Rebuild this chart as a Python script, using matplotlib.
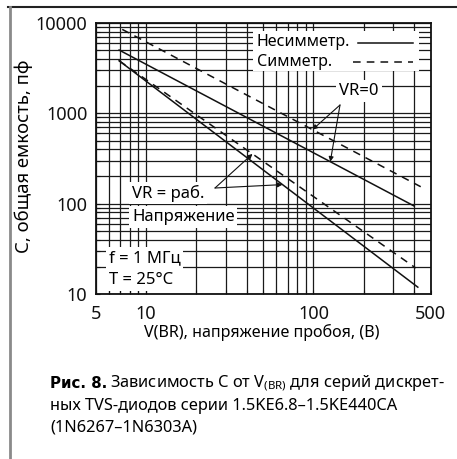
import numpy as np
import matplotlib
matplotlib.use("Agg")
import matplotlib.pyplot as plt
from matplotlib.lines import Line2D
from matplotlib.patches import Rectangle

plt.rcParams['font.family'] = ['Noto Sans', 'DejaVu Sans']
plt.rcParams['mathtext.fontset'] = 'custom'
plt.rcParams['mathtext.rm'] = 'Noto Sans'

# ---- data ----
v_asym_vr0 = [6.9, 400]
c_asym_vr0 = [5020, 94]
v_sym_vr0 = [7.2, 437]
c_sym_vr0 = [8500, 154]
v_asym_vrwm = [6.9, 420]
c_asym_vrwm = [3820, 11.9]
v_sym_vrwm = [6.9, 408]
c_sym_vrwm = [3820, 19.4]

x_ticks = [5, 10, 100, 500]
x_ticklabels = ['5', '10', '100', '500']
y_ticks = [10, 100, 1000, 10000]
y_ticklabels = ['10', '100', '1000', '10000']

W, H = 457, 459
fig = plt.figure(figsize=(W / 100, H / 100), dpi=100)
fig.patch.set_facecolor('white')

def fx(px):
    return px / W

def fy(py):
    return 1 - py / H

L, R, T, B = 95.7, 430.5, 23, 294
ax = fig.add_axes([fx(L), fy(B), fx(R - L), (B - T) / H])

def axc(px, py):
    return ((px - L) / (R - L), (B - py) / (B - T))

ax.set_xscale('log')
ax.set_yscale('log')
ax.set_xlim(5, 500)
ax.set_ylim(10, 10000)

ax.set_xticks(x_ticks)
ax.set_xticklabels(x_ticklabels)
ax.set_yticks(y_ticks)
ax.set_yticklabels(y_ticklabels)
ax.xaxis.set_minor_locator(matplotlib.ticker.LogLocator(base=10, subs=np.arange(2, 10)))
ax.yaxis.set_minor_locator(matplotlib.ticker.LogLocator(base=10, subs=np.arange(2, 10)))
ax.xaxis.set_minor_formatter(matplotlib.ticker.NullFormatter())
ax.yaxis.set_minor_formatter(matplotlib.ticker.NullFormatter())
ax.tick_params(which='both', direction='in', length=3, width=0.8, colors='#111111')
ax.tick_params(axis='x', which='major', pad=8, labelsize=13)
ax.tick_params(axis='y', which='major', pad=6, labelsize=13)
ax.grid(True, which='both', color='#1a1a1a', linewidth=0.9)
for s in ax.spines.values():
    s.set_linewidth(1.3)
    s.set_color('#111111')

lw = 1.1
dash = (0, (5, 4))
ax.plot(v_asym_vr0, c_asym_vr0, color='#111111', lw=lw, zorder=4)
ax.plot(v_sym_vr0, c_sym_vr0, color='#111111', lw=lw, ls=dash, zorder=4)
ax.plot(v_asym_vrwm, c_asym_vrwm, color='#111111', lw=lw, zorder=4)
ax.plot(v_sym_vrwm, c_sym_vrwm, color='#111111', lw=lw, ls=dash, zorder=4)

def on_line(vs, cs, v):
    lc = np.interp(np.log10(v), np.log10(vs), np.log10(cs))
    return (v, 10 ** lc)

# ---- legend box ----
x0, y0 = axc(253, 71)
x1, y1 = axc(419, 31)
ax.add_patch(Rectangle((x0, y0), x1 - x0, y1 - y0, transform=ax.transAxes,
                       facecolor='white', edgecolor='none', zorder=5))
lfs = 11.5
tfs = 12
ax.text(*axc(257, 42), 'Несимметр.', transform=ax.transAxes, fontsize=lfs,
        va='center', ha='left', zorder=6)
ax.text(*axc(257, 62), 'Симметр.', transform=ax.transAxes, fontsize=lfs,
        va='center', ha='left', zorder=6)
a, b = axc(358, 43), axc(413, 43)
ax.add_line(Line2D([a[0], b[0]], [a[1], b[1]], transform=ax.transAxes,
                   color='#111111', lw=lw, zorder=6))
a, b = axc(353, 62), axc(413, 62)
ax.add_line(Line2D([a[0], b[0]], [a[1], b[1]], transform=ax.transAxes,
                   color='#111111', lw=lw, ls=dash, zorder=6))

box = dict(facecolor='white', edgecolor='none', pad=2)

# ---- VR=0 annotations ----
ax.text(*axc(359, 91), 'VR=0', transform=ax.transAxes, fontsize=tfs,
        va='center', ha='center', zorder=6, bbox=box)
arrow = dict(arrowstyle='-|>', color='#111111', lw=0.8, mutation_scale=7,
             shrinkA=0, shrinkB=0)
tail = axc(340, 105)
ax.annotate('', xy=on_line(v_sym_vr0, c_sym_vr0, 98.6), xycoords='data',
            xytext=tail, textcoords='axes fraction', arrowprops=arrow, zorder=6)
ax.annotate('', xy=on_line(v_asym_vr0, c_asym_vr0, 126), xycoords='data',
            xytext=tail, textcoords='axes fraction', arrowprops=arrow, zorder=6)

# ---- VR = working voltage ----
ax.text(*axc(132, 193), 'VR = раб.', transform=ax.transAxes, fontsize=tfs,
        va='center', ha='left', zorder=6, bbox=box)
ax.text(*axc(132, 217), 'Напряжение', transform=ax.transAxes, fontsize=tfs,
        va='center', ha='left', zorder=6, bbox=box)
tail = axc(215, 188)
ax.annotate('', xy=on_line(v_sym_vrwm, c_sym_vrwm, 43.2), xycoords='data',
            xytext=tail, textcoords='axes fraction', arrowprops=arrow, zorder=6)
ax.annotate('', xy=on_line(v_asym_vrwm, c_asym_vrwm, 65.3), xycoords='data',
            xytext=tail, textcoords='axes fraction', arrowprops=arrow, zorder=6)

# ---- conditions ----
ax.text(*axc(109, 258), 'f = 1 МГц', transform=ax.transAxes, fontsize=tfs,
        va='center', ha='left', zorder=6, bbox=box)
ax.text(*axc(109, 280), 'T = 25°C', transform=ax.transAxes, fontsize=tfs,
        va='center', ha='left', zorder=6, bbox=box)

# ---- axis labels ----
fig.text(fx(24), fy(156), 'С, общая емкость, пф', rotation=90, fontsize=13.3,
         ha='center', va='center')
fig.text(fx(262), fy(332), 'V(BR), напряжение пробоя, (В)', fontsize=11.6,
         ha='center', va='center')

# ---- caption ----
cfs = 11.8
t1 = fig.text(fx(50), fy(383), 'Рис. 8.', fontsize=10.8, fontweight='bold',
              family=['DejaVu Sans'], ha='left', va='center')
fig.canvas.draw()
r = fig.canvas.get_renderer()
bb = t1.get_window_extent(r)
fig.text(bb.x1 / W + fx(3), fy(383),
         r'Зависимость С от V$_{\mathregular{(BR)}}$ для серий дискрет-',
         fontsize=cfs, ha='left', va='center')
fig.text(fx(50), fy(406), 'ных TVS-диодов серии 1.5KE6.8–1.5KE440CA',
         fontsize=cfs, ha='left', va='center')
fig.text(fx(50), fy(428), '(1N6267–1N6303A)', fontsize=cfs, ha='left', va='center')

# ---- frame lines of the figure ----
fig.add_artist(Line2D([fx(8), 1], [fy(7), fy(7)], color='#222222', lw=1.5))
fig.add_artist(Line2D([fx(10), fx(10)], [fy(7), 0], color='#8a8a8a', lw=2))

fig.savefig('out.png', dpi=100, facecolor='white')
